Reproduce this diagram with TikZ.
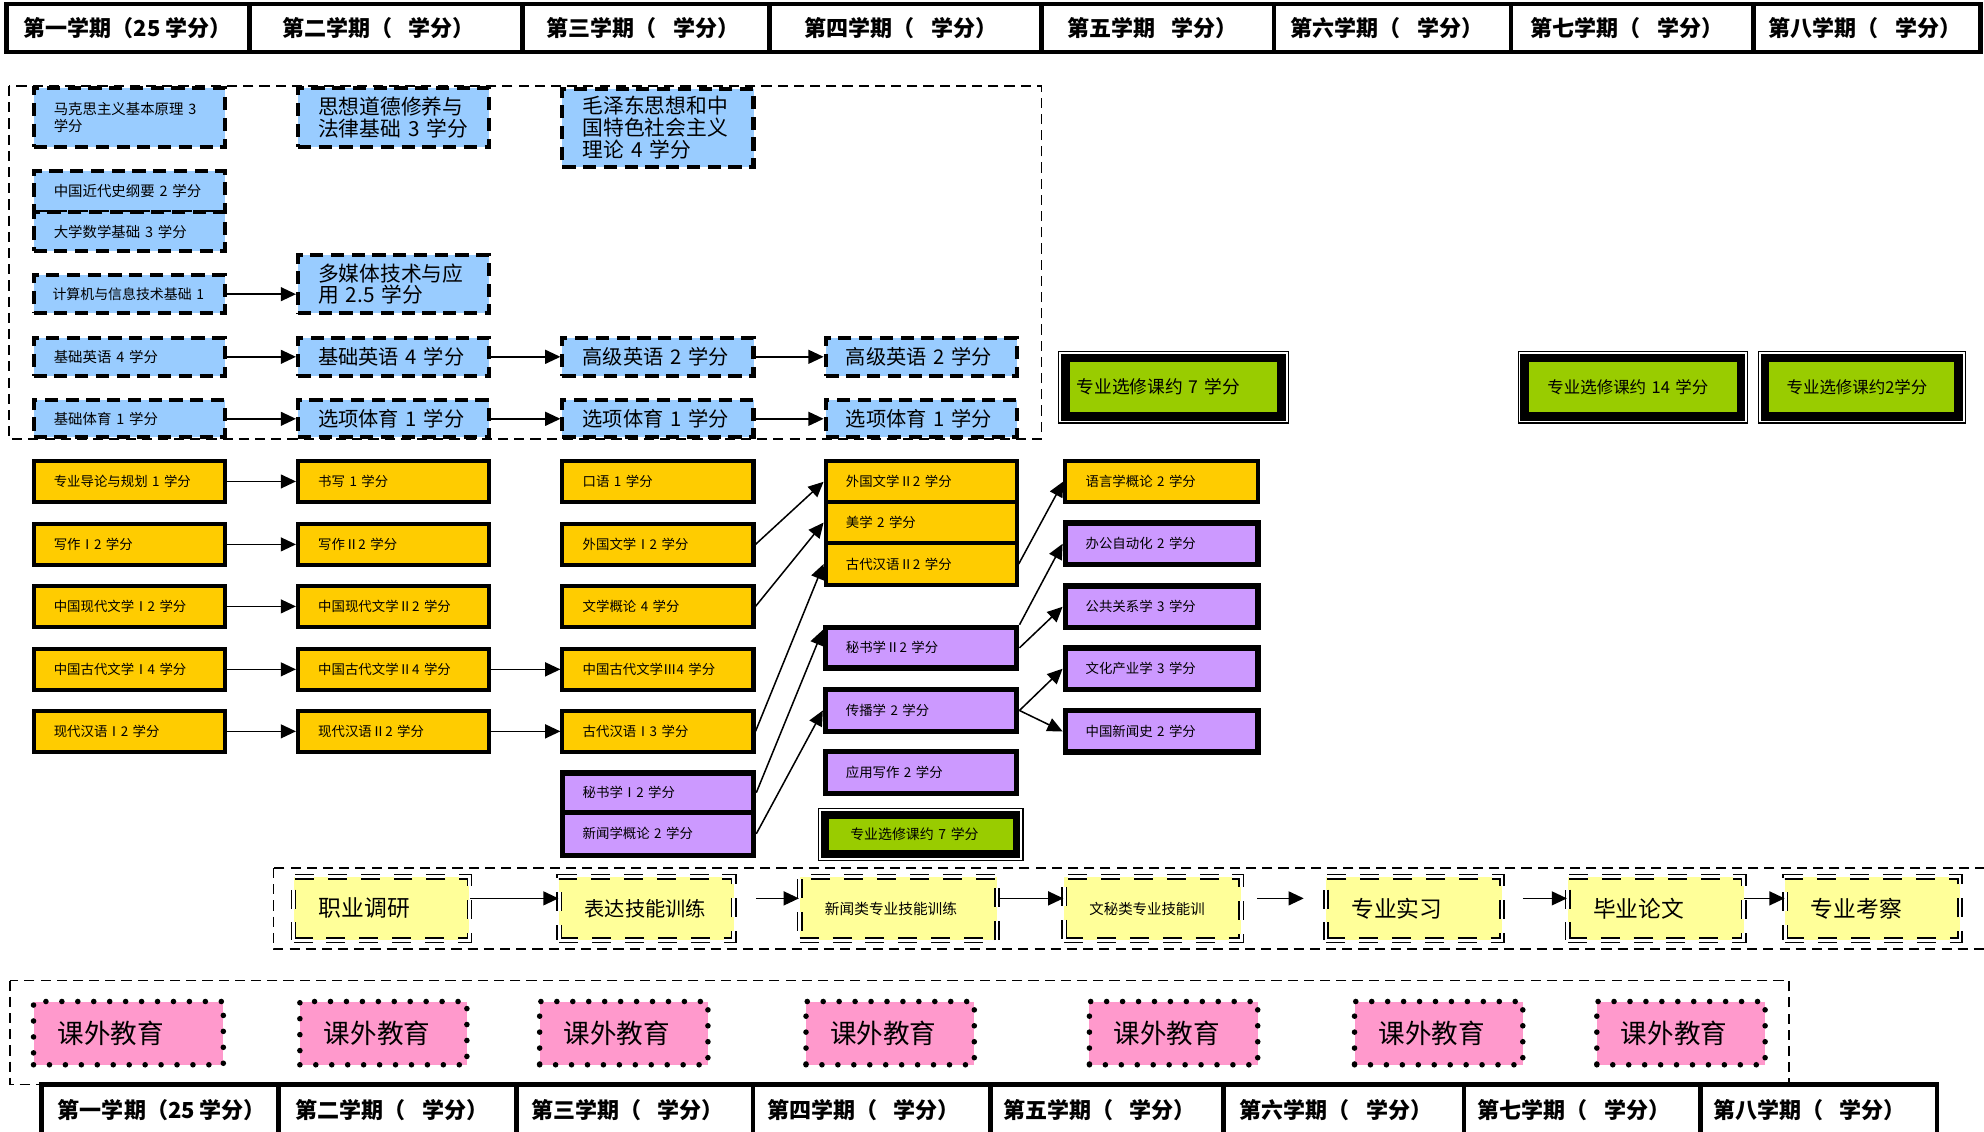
\documentclass[tikz,border=0pt]{standalone}
\usepackage{fontspec}
\setmainfont{Noto Sans CJK SC}
\usetikzlibrary{arrows.meta,calc}
\definecolor{cblue}{HTML}{99CCFF}
\definecolor{cyel}{HTML}{FFCC00}
\definecolor{cpur}{HTML}{CC99FF}
\definecolor{cgrn}{HTML}{99CC00}
\definecolor{clyel}{HTML}{FFFF99}
\definecolor{cpink}{HTML}{FF99CC}
\newcommand{\gp}{\hspace{0.75em}}
\begin{document}
\begin{tikzpicture}[x=0.5pt,y=-0.5pt,
  cbox/.style={rectangle, inner xsep=8pt, inner ysep=0pt, align=left, text width=59.5pt, minimum width=75.5pt, minimum height=16pt},
  fsm/.style={font=\fontsize{5.7pt}{6.6pt}\selectfont},
  fys/.style={font=\fontsize{5.3pt}{6.2pt}\selectfont},
  fbg/.style={font=\fontsize{8.2pt}{7.3pt}\selectfont},
  fmd/.style={font=\fontsize{8pt}{9pt}\selectfont},
  bluebox/.style={cbox, fill=cblue, draw=black, line width=1.6pt, dash pattern=on 5.2pt off 3pt},
  yelbox/.style={cbox, fys, fill=cyel, draw=black, line width=1.6pt},
  purbox/.style={cbox, fys, fill=cpur, draw=black, line width=2.2pt},
  grnbox/.style={rectangle, inner ysep=0pt, align=left, fill=cgrn, draw=black, line width=3.4pt, minimum height=23pt},
  gout/.style={draw=black, line width=0.5pt},
  dframe/.style={draw=black, line width=0.6pt, dash pattern=on 4pt off 2.4pt},
  bandbox/.style={rectangle, inner xsep=10pt, inner ysep=0pt, align=left, minimum height=25pt, fill=clyel, draw=black, line width=0.6pt, double, double distance=1.1pt, dash pattern=on 7.5pt off 5.5pt},
  pinkbox/.style={rectangle, inner xsep=9.5pt, inner ysep=0pt, align=left, minimum height=25pt, fill=cpink, draw=black, line width=2.2pt, dash pattern=on 0pt off 6.3pt, line cap=round, font=\fontsize{10.5pt}{12pt}\selectfont},
  arr/.style={line width=0.6pt, -{Triangle[length=6pt,width=5.5pt]}},
  hdr/.style={font=\fontsize{8.7pt}{11pt}\selectfont\bfseries},
  tline/.style={line width=1.8pt}
]
\useasboundingbox (0,0) rectangle (1568,894);
\clip (0,0) rectangle (1568,894);

% ---------- top header ----------
\draw[tline] (5,3) rectangle (1565,41);
\foreach \xx in {197,413,608,823,1007,1194,1386} \draw[tline] (\xx,3) -- (\xx,41);
\node[hdr] (h1) at (101,22) {第一学期（25 学分）};
\node[hdr] (h2) at (299,22) {第二学期（\gp 学分）};
\node[hdr] (h3) at (508,22) {第三学期（\gp 学分）};
\node[hdr] (h4) at (712,22) {第四学期（\gp 学分）};
\node[hdr] (h5) at (911,22) {第五学期\gp 学分）};
\node[hdr] (h6) at (1096,22) {第六学期（\gp 学分）};
\node[hdr] (h7) at (1286,22) {第七学期（\gp 学分）};
\node[hdr] (h8) at (1474,22) {第八学期（\gp 学分）};

% ---------- frames ----------
\draw[dframe] (7,68) rectangle (823,347);
\draw[dframe] (216,686) rectangle (1590,750);
\draw[dframe] (8,775) rectangle (1414,857);

% ---------- blue boxes ----------
\node[bluebox, fsm, minimum height=23.5pt] (mks) at (102,93) {马克思主义基本原理 3\\学分};
\node[bluebox, fbg, minimum height=23.5pt] (sxdd) at (311,93) {思想道德修养与\\法律基础 3 学分};
\node[bluebox, fbg, minimum height=31pt] (mzd) at (520,101) {毛泽东思想和中\\国特色社会主义\\理论 4 学分};
\node[bluebox, fsm, minimum height=16.25pt] (jds) at (102,151.25) {中国近代史纲要 2 学分};
\node[bluebox, fsm, minimum height=15.5pt] (dxsx) at (102,183) {大学数学基础 3 学分};
\node[bluebox, font=\fontsize{5.5pt}{6.5pt}\selectfont, inner xsep=7.5pt, text width=60.5pt, minimum height=15pt] (jsj) at (102,232.5) {计算机与信息技术基础 1};
\node[bluebox, fbg, minimum height=23pt] (dmt) at (311,224.5) {多媒体技术与应\\用 2.5 学分};
\node[bluebox, fsm, minimum height=15pt] (yy1) at (102,282) {基础英语 4 学分};
\node[bluebox, fmd, minimum height=15pt] (yy2) at (311,282) {基础英语 4 学分};
\node[bluebox, fmd, minimum height=15pt] (yy3) at (520,282) {高级英语 2 学分};
\node[bluebox, fmd, minimum height=15pt] (yy4) at (728,282) {高级英语 2 学分};
\node[bluebox, fsm, minimum height=14.5pt] (ty1) at (102,331) {基础体育 1 学分};
\node[bluebox, fmd, minimum height=14.5pt] (ty2) at (311,331) {选项体育 1 学分};
\node[bluebox, fmd, minimum height=14.5pt] (ty3) at (520,331) {选项体育 1 学分};
\node[bluebox, fmd, minimum height=14.5pt] (ty4) at (728,331) {选项体育 1 学分};

% ---------- green boxes (top) ----------
\node[grnbox, font=\fontsize{7pt}{8pt}\selectfont, inner xsep=4.5pt, minimum width=85.5pt, text width=76.5pt] (g7) at (927.5,306) {专业选修课约 7 学分};
\node[grnbox, font=\fontsize{6.5pt}{7.5pt}\selectfont, inner xsep=9pt, minimum width=85.5pt, text width=67.5pt] (g14) at (1290.5,306) {专业选修课约 14 学分};
\node[grnbox, font=\fontsize{6.5pt}{7.5pt}\selectfont, inner xsep=8.5pt, minimum width=76.5pt, text width=59.5pt] (g2) at (1471.5,306) {专业选修课约2学分};
\foreach \g in {g7,g14,g2}
  \draw[gout] ([shift={(-0.9pt,0.9pt)}]\g.north west) rectangle ([shift={(0.9pt,-0.9pt)}]\g.south east);

% ---------- yellow boxes ----------
\node[yelbox] (a1) at (102,380.5) {专业导论与规划 1 学分};
\node[yelbox] (a2) at (102,430.25) {写作Ⅰ2 学分};
\node[yelbox] (a3) at (102,479.25) {中国现代文学Ⅰ2 学分};
\node[yelbox] (a4) at (102,529) {中国古代文学Ⅰ4 学分};
\node[yelbox] (a5) at (102,578) {现代汉语Ⅰ2 学分};
\node[yelbox] (b1) at (311,380.5) {书写 1 学分};
\node[yelbox] (b2) at (311,430.25) {写作Ⅱ2 学分};
\node[yelbox] (b3) at (311,479.25) {中国现代文学Ⅱ2 学分};
\node[yelbox] (b4) at (311,529) {中国古代文学Ⅱ4 学分};
\node[yelbox] (b5) at (311,578) {现代汉语Ⅱ2 学分};
\node[yelbox] (c1) at (520,380.5) {口语 1 学分};
\node[yelbox] (c2) at (520,430.25) {外国文学Ⅰ2 学分};
\node[yelbox] (c3) at (520,479.25) {文学概论 4 学分};
\node[yelbox] (c4) at (520,529) {中国古代文学Ⅲ4 学分};
\node[yelbox] (c5) at (520,578) {古代汉语Ⅰ3 学分};
\node[purbox, minimum height=15.5pt] (c6) at (520,626.5) {秘书学Ⅰ2 学分};
\node[purbox, minimum height=17pt] (c7) at (520,659) {新闻学概论 2 学分};

\node[yelbox, minimum height=16.25pt] (d1) at (728,380.75) {外国文学Ⅱ2 学分};
\node[yelbox, minimum height=16pt] (d2) at (728,413) {美学 2 学分};
\node[yelbox, minimum height=16.75pt] (d3) at (728,445.75) {古代汉语Ⅱ2 学分};
\node[purbox, minimum height=16pt] (d4) at (728,512) {秘书学Ⅱ2 学分};
\node[purbox, minimum height=16.5pt] (d5) at (728,561.5) {传播学 2 学分};
\node[purbox, minimum height=16.5pt] (d6) at (728,610.5) {应用写作 2 学分};
\node[grnbox, font=\fontsize{5.5pt}{6.5pt}\selectfont, inner xsep=10pt, minimum width=75.75pt, text width=55.75pt, minimum height=15.5pt, line width=3pt] (d7) at (727.75,659.5) {专业选修课约 7 学分};
\draw[gout] ([shift={(-1pt,1pt)}]d7.north west) rectangle ([shift={(1pt,-1pt)}]d7.south east);

\node[yelbox, minimum width=76pt, text width=60pt] (e1) at (918,380.5) {语言学概论 2 学分};
\node[purbox, minimum width=76pt, text width=60pt, minimum height=16.5pt] (e2) at (918,429.75) {办公自动化 2 学分};
\node[purbox, minimum width=76pt, text width=60pt, minimum height=16.5pt] (e3) at (918,479.5) {公共关系学 3 学分};
\node[purbox, minimum width=76pt, text width=60pt, minimum height=16.5pt] (e4) at (918,528.5) {文化产业学 3 学分};
\node[purbox, minimum width=76pt, text width=60pt, minimum height=16.5pt] (e5) at (918,578) {中国新闻史 2 学分};

% ---------- arrows: blue ----------
\draw[arr] (jsj.east) -- (jsj.east -| dmt.west);
\draw[arr] (yy1) -- (yy2);
\draw[arr] (yy2) -- (yy3);
\draw[arr] (yy3) -- (yy4);
\draw[arr] (ty1) -- (ty2);
\draw[arr] (ty2) -- (ty3);
\draw[arr] (ty3) -- (ty4);
% ---------- arrows: yellow ----------
\foreach \i in {1,...,5} \draw[arr] (a\i) -- (b\i);
\draw[arr] (b4) -- (c4);
\draw[arr] (b5) -- (c5);
\draw[arr] (c2.east) -- (d1.west);
\draw[arr] (c3.east) -- (d2.west);
\draw[arr] (c5.east) -- (d3.west);
\draw[arr] (c6.east) -- ([yshift=-2pt]d4.north west);
\draw[arr] (c7.east) -- (d5.west);
\draw[arr] (d3.east) -- (e1.west);
\draw[arr] (d4.north east) -- (e2.west);
\draw[arr] (d4.east) -- (e3.west);
\draw[arr] (d5.east) -- (e4.west);
\draw[arr] (d5.east) -- (e5.west);

% ---------- band ----------
\node[bandbox, font=\fontsize{9pt}{10pt}\selectfont, minimum width=69.5pt, text width=49.5pt] (p1) at (301.5,718) {职业调研};
\node[bandbox, font=\fontsize{8pt}{9pt}\selectfont, minimum width=69pt, text width=49pt] (p2) at (511,718) {表达技能训练};
\node[bandbox, font=\fontsize{5.8pt}{7pt}\selectfont, minimum width=78pt, text width=58pt] (p3) at (710,718) {新闻类专业技能训练};
\node[bandbox, font=\fontsize{5.7pt}{7pt}\selectfont, minimum width=70pt, text width=50pt] (p4) at (911,718) {文秘类专业技能训};
\node[bandbox, font=\fontsize{9pt}{10pt}\selectfont, minimum width=69.5pt, text width=49.5pt] (p5) at (1117.5,718) {专业实习};
\node[bandbox, font=\fontsize{9pt}{10pt}\selectfont, minimum width=69.5pt, text width=49.5pt] (p6) at (1308.5,718) {毕业论文};
\node[bandbox, font=\fontsize{9pt}{10pt}\selectfont, minimum width=69pt, text width=49pt] (p7) at (1480,718) {专业考察};
\draw[arr] ([yshift=4pt]p1.east) -- ([yshift=4pt]p2.west);
\draw[arr] ([xshift=8.5pt,yshift=4pt]p2.east) -- ([yshift=4pt]p3.west);
\draw[arr] ([yshift=4pt]p3.east) -- ([yshift=4pt]p4.west);
\draw[arr] ([xshift=6pt,yshift=4pt]p4.east) -- ([xshift=-8.5pt,yshift=4pt]p5.west);
\draw[arr] ([xshift=8pt,yshift=4pt]p5.east) -- ([yshift=4pt]p6.west);
\draw[arr] ([yshift=4pt]p6.east) -- ([yshift=4pt]p7.west);

% ---------- pink ----------
\node[pinkbox, minimum width=75pt, text width=56pt] (k1) at (101.5,816.5) {课外教育};
\node[pinkbox, minimum width=66pt, text width=47pt] (k2) at (303,816.5) {课外教育};
\node[pinkbox, minimum width=66.5pt, text width=47.5pt] (k3) at (493,816.5) {课外教育};
\node[pinkbox, minimum width=66.5pt, text width=47.5pt] (k4) at (703.5,816.5) {课外教育};
\node[pinkbox, minimum width=66.5pt, text width=47.5pt] (k5) at (927.5,816.5) {课外教育};
\node[pinkbox, minimum width=66.5pt, text width=47.5pt] (k6) at (1137,816.5) {课外教育};
\node[pinkbox, minimum width=66.5pt, text width=47.5pt] (k7) at (1328.5,816.5) {课外教育};

% ---------- bottom header ----------
\draw[tline] (33,857) rectangle (1531,915);
\foreach \xx in {220,408,595,783,967,1157,1344} \draw[tline] (\xx,857) -- (\xx,915);
\node[hdr] (f1) at (128,877) {第一学期（25 学分）};
\node[hdr] (f2) at (310,877) {第二学期（\gp 学分）};
\node[hdr] (f3) at (496,877) {第三学期（\gp 学分）};
\node[hdr] (f4) at (682.5,877) {第四学期（\gp 学分）};
\node[hdr] (f5) at (869,877) {第五学期（\gp 学分）};
\node[hdr] (f6) at (1056,877) {第六学期（\gp 学分）};
\node[hdr] (f7) at (1244,877) {第七学期（\gp 学分）};
\node[hdr] (f8) at (1430,877) {第八学期（\gp 学分）};
\end{tikzpicture}
\end{document}
